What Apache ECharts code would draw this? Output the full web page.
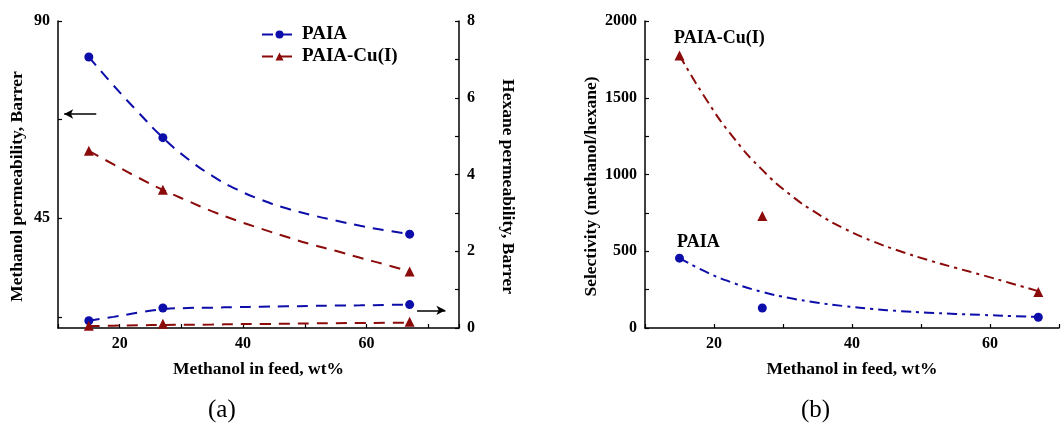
<!DOCTYPE html>
<html>
<head>
<meta charset="utf-8">
<script src="https://cdn.jsdelivr.net/npm/echarts@6/dist/echarts.min.js"></script>
<style>
html,body{margin:0;padding:0;background:#fff;}
#c{width:1062px;height:427px;}
</style>
</head>
<body>
<div id="c"></div>
<script>
// measured points (x = methanol in feed, wt%)
const xPts = [15, 27, 67];
const paiaMeth = [81.8, 63.4, 41.4];
const cuMeth = [60.4, 51.5, 32.9];
const paiaHex = [0.19, 0.52, 0.61];
const cuHex = [0.06, 0.11, 0.16];
const paiaSel = [455, 130, 70];
const cuSel = [1775, 730, 235];

// fitted curves
const fitX = [15, 19, 23, 27, 31, 35, 39, 43, 47, 51, 55, 59, 63, 67];
const paiaMethFit = [81.8, 75.3, 69.2, 63.4, 58.6, 54.7, 51.6, 49.2, 47.3, 45.8, 44.5, 43.3, 42.3, 41.4];
const cuMethFit = [60.4, 57.3, 54.3, 51.5, 49.0, 46.6, 44.5, 42.6, 40.8, 39.1, 37.6, 36.0, 34.5, 32.9];
const paiaHexFit = [0.19, 0.29, 0.40, 0.49, 0.52, 0.53, 0.545, 0.555, 0.565, 0.575, 0.585, 0.59, 0.60, 0.61];
const cuHexFit = [0.05, 0.06, 0.07, 0.08, 0.085, 0.09, 0.10, 0.105, 0.11, 0.12, 0.125, 0.13, 0.135, 0.14];
const paiaSelFit = [455, 362, 290, 235, 195, 165, 142, 124, 110, 100, 92, 85, 78, 72];
const cuSelFit = [1777, 1480, 1230, 1030, 870, 745, 645, 565, 500, 443, 392, 343, 292, 240];

// ticks / labels
const leftYTicks = [22.5, 45, 67.5, 90];
const leftYLabels = [45, 90];
const xLabelVals = [20, 40, 60];

const BLUE = '#0d0daa';
const RED = '#8b0b0b';
const FONT = 'Liberation Serif';

const zip = (xs, ys) => xs.map((x, i) => [x, ys[i]]);

const axisCommon = {
  axisLine: {show: true, lineStyle: {color: '#000', width: 1.5}},
  axisTick: {show: true, inside: true, length: 4, lineStyle: {color: '#000', width: 1.2}},
  splitLine: {show: false},
  axisLabel: {color: '#000', fontFamily: FONT, fontWeight: 'bold', fontSize: 16},
  nameTextStyle: {color: '#000', fontFamily: FONT, fontWeight: 'bold', fontSize: 17.5}
};

function xAxisDef(gridIndex, max) {
  return Object.assign({}, axisCommon, {
    type: 'value', gridIndex, min: 10, max, interval: 10,
    name: 'Methanol in feed, wt%', nameLocation: 'middle', nameGap: 32,
    axisLabel: Object.assign({}, axisCommon.axisLabel, {
      margin: 8,
      formatter: v => xLabelVals.indexOf(v) >= 0 ? String(v) : ''
    })
  });
}

const chart = echarts.init(document.getElementById('c'), null, {renderer: 'canvas'});

const dashLeft = [11, 8];
const dashDot = [10, 5, 3, 5];
const pointStyle = c => ({color: c, opacity: 1});

chart.setOption({
  backgroundColor: '#fff',
  animation: false,
  grid: [
    {left: 58, right: 603, top: 21, bottom: 99},
    {left: 645, right: 1, top: 21, bottom: 99}
  ],
  legend: {
    orient: 'vertical', left: 256, top: 20, itemWidth: 35, itemHeight: 10, itemGap: 3,
    data: ['PAIA', 'PAIA-Cu(I)'],
    textStyle: {color: '#000', fontFamily: FONT, fontWeight: 'bold', fontSize: 19}
  },
  xAxis: [xAxisDef(0, 75), xAxisDef(1, 70)],
  yAxis: [
    Object.assign({}, axisCommon, {
      type: 'value', gridIndex: 0, min: 20, max: 90, position: 'left',
      axisTick: Object.assign({}, axisCommon.axisTick, {customValues: leftYTicks}),
      axisLabel: Object.assign({}, axisCommon.axisLabel, {customValues: leftYLabels}),
      name: 'Methanol permeability, Barrer', nameLocation: 'middle', nameGap: 32,
      nameTextStyle: Object.assign({}, axisCommon.nameTextStyle, {padding: [0, 24, 0, 0]})
    }),
    Object.assign({}, axisCommon, {
      type: 'value', gridIndex: 0, min: 0, max: 8, interval: 1, position: 'right',
      axisLabel: Object.assign({}, axisCommon.axisLabel, {formatter: v => (v % 2 === 0 ? String(v) : '')}),
      name: 'Hexane permeability, Barrer', nameLocation: 'middle', nameGap: 40, nameRotate: -90,
      nameTextStyle: Object.assign({}, axisCommon.nameTextStyle, {padding: [0, 0, 0, 24]})
    }),
    Object.assign({}, axisCommon, {
      type: 'value', gridIndex: 1, min: 0, max: 2000, interval: 250, position: 'left',
      axisLabel: Object.assign({}, axisCommon.axisLabel, {formatter: v => (v % 500 === 0 ? String(v) : '')}),
      name: 'Selectivity (methanol/hexane)', nameLocation: 'middle', nameGap: 45,
      nameTextStyle: Object.assign({}, axisCommon.nameTextStyle, {padding: [0, 24, 0, 0]})
    })
  ],
  series: [
    // left chart: methanol permeability curves
    {name: 'PAIA', type: 'line', xAxisIndex: 0, yAxisIndex: 0, smooth: true,
     symbol: 'circle', symbolSize: 9, showSymbol: false,
     itemStyle: pointStyle(BLUE), lineStyle: {color: BLUE, width: 2, type: dashLeft},
     data: zip(fitX, paiaMethFit),
     markLine: {silent: true, animation: false, label: {show: false},
       lineStyle: {color: '#000', width: 1.5, type: 'solid'}, symbolSize: [7, 9],
       data: [[{coord: [16.2, 68.8], symbol: 'none'}, {coord: [11.0, 68.8], symbol: 'arrow'}]]}
    },
    {name: 'PAIA-Cu(I)', type: 'line', xAxisIndex: 0, yAxisIndex: 0, smooth: true,
     symbol: 'triangle', symbolSize: 10, showSymbol: false,
     itemStyle: pointStyle(RED), lineStyle: {color: RED, width: 2, type: dashLeft},
     data: zip(fitX, cuMethFit)},
    {name: 'PAIA', type: 'scatter', xAxisIndex: 0, yAxisIndex: 0, symbol: 'circle', symbolSize: 9,
     itemStyle: pointStyle(BLUE), data: zip(xPts, paiaMeth)},
    {name: 'PAIA-Cu(I)', type: 'scatter', xAxisIndex: 0, yAxisIndex: 0, symbol: 'triangle', symbolSize: 10,
     itemStyle: pointStyle(RED), data: zip(xPts, cuMeth)},
    // left chart: hexane permeability curves
    {name: 'PAIA', type: 'line', xAxisIndex: 0, yAxisIndex: 1, smooth: true,
     symbol: 'none', lineStyle: {color: BLUE, width: 2, type: dashLeft},
     data: zip(fitX, paiaHexFit),
     markLine: {silent: true, animation: false, label: {show: false},
       lineStyle: {color: '#000', width: 1.5, type: 'solid'}, symbolSize: [7, 9],
       data: [[{coord: [68.2, 0.46], symbol: 'none'}, {coord: [72.8, 0.46], symbol: 'arrow'}]]}
    },
    {name: 'PAIA-Cu(I)', type: 'line', xAxisIndex: 0, yAxisIndex: 1, smooth: true,
     symbol: 'none', lineStyle: {color: RED, width: 2, type: dashLeft},
     data: zip(fitX, cuHexFit)},
    {name: 'PAIA', type: 'scatter', xAxisIndex: 0, yAxisIndex: 1, symbol: 'circle', symbolSize: 9,
     itemStyle: pointStyle(BLUE), data: zip(xPts, paiaHex)},
    {name: 'PAIA-Cu(I)', type: 'scatter', xAxisIndex: 0, yAxisIndex: 1, symbol: 'triangle', symbolSize: 10,
     itemStyle: pointStyle(RED), data: zip(xPts, cuHex)},
    // right chart: selectivity
    {name: 'selPAIAfit', type: 'line', xAxisIndex: 1, yAxisIndex: 2, smooth: true, symbol: 'none',
     lineStyle: {color: BLUE, width: 2, type: dashDot}, data: zip(fitX, paiaSelFit)},
    {name: 'selCufit', type: 'line', xAxisIndex: 1, yAxisIndex: 2, smooth: true, symbol: 'none',
     lineStyle: {color: RED, width: 2, type: dashDot}, data: zip(fitX, cuSelFit)},
    {name: 'selPAIA', type: 'scatter', xAxisIndex: 1, yAxisIndex: 2, symbol: 'circle', symbolSize: 9,
     itemStyle: pointStyle(BLUE), data: zip(xPts, paiaSel)},
    {name: 'selCu', type: 'scatter', xAxisIndex: 1, yAxisIndex: 2, symbol: 'triangle', symbolSize: 10,
     itemStyle: pointStyle(RED), data: zip(xPts, cuSel)}
  ],
  graphic: [
    {type: 'text', left: 674, top: 29, style: {text: 'PAIA-Cu(I)', fill: '#000', font: 'bold 18px "Liberation Serif"'}},
    {type: 'text', left: 677, top: 233, style: {text: 'PAIA', fill: '#000', font: 'bold 18px "Liberation Serif"'}},
    {type: 'text', left: 208, top: 398, style: {text: '(a)', fill: '#000', font: '25px "Liberation Serif"'}},
    {type: 'text', left: 801, top: 398, style: {text: '(b)', fill: '#000', font: '25px "Liberation Serif"'}}
  ]
});
</script>
</body>
</html>
